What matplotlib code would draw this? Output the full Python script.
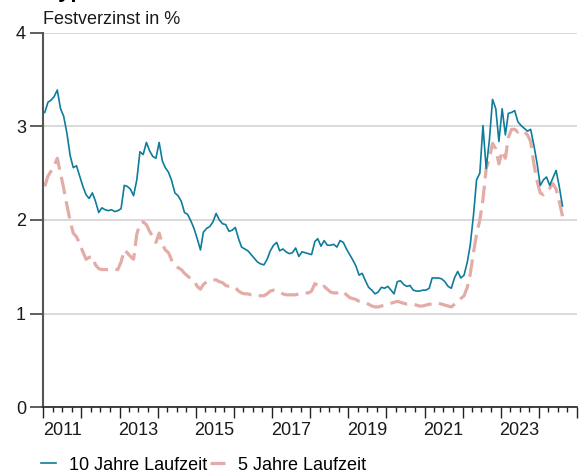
import numpy as np
import pandas as pd
import matplotlib
matplotlib.use("Agg")
import matplotlib.pyplot as plt
import matplotlib.dates as mdates
from matplotlib.ticker import FuncFormatter

plt.rcParams['font.family'] = ['Liberation Sans', 'DejaVu Sans']

# Monatswerte Jan 2011 - Aug 2024 (Mitte Monat), in %
months = pd.date_range("2011-01-01", "2024-08-01", freq="MS") + pd.Timedelta(days=14)

rate_10y = [
    3.15, 3.26, 3.28, 3.32, 3.39, 3.19, 3.11, 2.93, 2.69, 2.56, 2.58, 2.47,
    2.36, 2.27, 2.23, 2.29, 2.20, 2.08, 2.13, 2.11, 2.10, 2.11, 2.09, 2.10,
    2.12, 2.37, 2.36, 2.33, 2.26, 2.43, 2.73, 2.70, 2.83, 2.74, 2.68, 2.66,
    2.83, 2.63, 2.56, 2.51, 2.42, 2.29, 2.26, 2.20, 2.08, 2.06, 1.99, 1.91,
    1.80, 1.68, 1.87, 1.91, 1.93, 1.98, 2.07, 2.00, 1.96, 1.95, 1.88, 1.89,
    1.92, 1.80, 1.71, 1.69, 1.67, 1.63, 1.59, 1.55, 1.53, 1.52, 1.58, 1.67,
    1.73, 1.76, 1.67, 1.69, 1.66, 1.64, 1.65, 1.70, 1.61, 1.66, 1.65, 1.64,
    1.63, 1.77, 1.80, 1.72, 1.78, 1.73, 1.73, 1.74, 1.71, 1.78, 1.76, 1.69,
    1.63, 1.57, 1.51, 1.41, 1.43, 1.35, 1.28, 1.25, 1.21, 1.23, 1.28, 1.27,
    1.29, 1.25, 1.21, 1.34, 1.35, 1.31, 1.29, 1.30, 1.25, 1.24, 1.24, 1.25,
    1.25, 1.27, 1.38, 1.38, 1.38, 1.37, 1.34, 1.29, 1.27, 1.38, 1.45, 1.38,
    1.41, 1.55, 1.73, 2.05, 2.43, 2.50, 3.01, 2.55, 2.86, 3.29, 3.19, 2.84,
    3.19, 2.91, 3.14, 3.15, 3.17, 3.05, 3.01, 2.98, 2.95, 2.97, 2.80, 2.61,
    2.37, 2.43, 2.46, 2.37, 2.45, 2.53, 2.36, 2.15,
]

rate_5y = [
    2.36, 2.47, 2.52, 2.58, 2.66, 2.50, 2.34, 2.16, 1.99, 1.86, 1.82, 1.75,
    1.66, 1.58, 1.60, 1.61, 1.52, 1.48, 1.47, 1.47, 1.47, 1.47, 1.47, 1.47,
    1.55, 1.68, 1.65, 1.61, 1.58, 1.85, 1.96, 1.98, 1.95, 1.88, 1.82, 1.76,
    1.86, 1.74, 1.68, 1.65, 1.57, 1.52, 1.49, 1.47, 1.43, 1.40, 1.37, 1.35,
    1.29, 1.26, 1.31, 1.34, 1.35, 1.36, 1.36, 1.34, 1.33, 1.30, 1.29, 1.29,
    1.28, 1.24, 1.22, 1.21, 1.21, 1.20, 1.20, 1.19, 1.19, 1.19, 1.21, 1.24,
    1.25, 1.24, 1.23, 1.21, 1.20, 1.20, 1.20, 1.20, 1.21, 1.22, 1.22, 1.22,
    1.24, 1.32, 1.30, 1.27, 1.29, 1.26, 1.23, 1.22, 1.22, 1.24, 1.23, 1.20,
    1.17, 1.16, 1.15, 1.13, 1.12, 1.11, 1.10, 1.08, 1.07, 1.07, 1.08, 1.09,
    1.10, 1.11, 1.12, 1.13, 1.12, 1.11, 1.10, 1.10, 1.10, 1.09, 1.08, 1.08,
    1.09, 1.10, 1.10, 1.10, 1.11, 1.10, 1.09, 1.08, 1.07, 1.10, 1.13, 1.16,
    1.19, 1.28, 1.42, 1.65, 1.85, 2.00, 2.22, 2.55, 2.66, 2.82, 2.76, 2.60,
    2.74, 2.66, 2.88, 2.97, 2.97, 2.94, 2.96, 2.94, 2.91, 2.84, 2.60, 2.42,
    2.29, 2.27, 2.30, 2.34, 2.39, 2.33, 2.20, 2.04,
]

labels = ["10 Jahre Laufzeit", "5 Jahre Laufzeit"]
col_10y = "#0e7c9b"
col_5y = "#e3aca7"

fig = plt.figure(figsize=(5.79, 4.72), dpi=100)
ax = fig.add_axes([0.0748, 0.1377, 0.9217, 0.7924])

ax.plot(months, rate_10y, color=col_10y, lw=1.2, label=labels[0], zorder=3)
ax.plot(months, rate_5y, color=col_5y, lw=2.3, dashes=(5.5, 2.3), label=labels[1], zorder=2)

ax.set_xlim(pd.Timestamp("2011-01-01"), pd.Timestamp("2025-01-01"))
ax.set_ylim(0, 4)
ax.set_yticks([0, 1, 2, 3, 4])
ax.grid(axis="y", color="#d0d0d0", lw=1.1, zorder=0)

for s in ["top", "right"]:
    ax.spines[s].set_visible(False)
ax.spines["left"].set_color("#555555")
ax.spines["left"].set_linewidth(1.5)
ax.spines["bottom"].set_color("#222222")
ax.spines["bottom"].set_linewidth(1.2)
ax.spines["left"].set_zorder(4)
ax.spines["bottom"].set_zorder(4)

ax.xaxis.set_major_locator(mdates.YearLocator())
ax.xaxis.set_major_formatter(FuncFormatter(lambda v, p: ""))
ax.xaxis.set_minor_locator(mdates.MonthLocator(bymonth=[1, 4, 7, 10]))


def year_label(v, pos):
    d = mdates.num2date(v)
    if d.month == 7 and d.year % 2 == 1:
        return str(d.year)
    return ""


ax.xaxis.set_minor_formatter(FuncFormatter(year_label))
ax.tick_params(axis="x", which="major", length=8, width=1.0, color="#222222")
ax.tick_params(axis="x", which="minor", length=3.6, width=1.0, color="#222222",
               labelsize=13, pad=7, labelcolor="#1a1a1a")
ax.tick_params(axis="y", length=9.5, width=1.1, color="#333333", labelsize=13,
               pad=3, labelcolor="#1a1a1a")

# Titel ist im Original oben abgeschnitten
fig.text(43 / 579, 1 + 2.6 / 472, "Hypothekarzinsen", fontsize=16,
         fontweight="bold", va="baseline", ha="left")
fig.text(43 / 579, 1 - 20 / 472, "Festverzinst in %", fontsize=13,
         va="center", ha="left", color="#1a1a1a")

fig.legend(loc="center left", bbox_to_anchor=(41 / 579, 1 - 465 / 472),
           ncol=2, frameon=False, fontsize=13, handlelength=0.82,
           handletextpad=0.73, columnspacing=0.15, borderpad=0,
           borderaxespad=0)

fig.savefig("out.png", dpi=100)
